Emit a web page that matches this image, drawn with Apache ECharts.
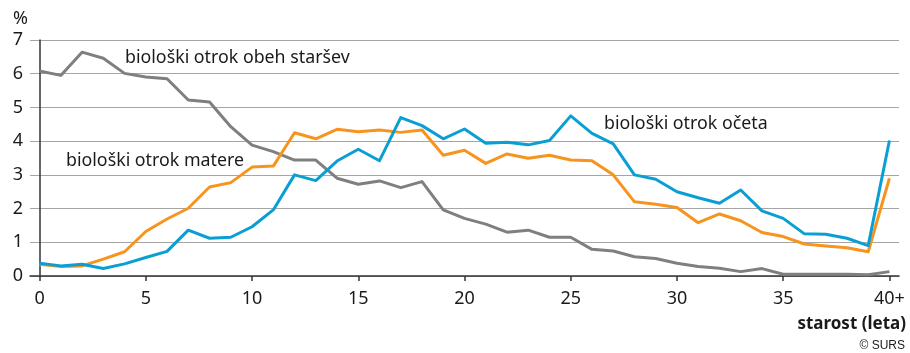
<!DOCTYPE html>
<html>
<head>
<meta charset="utf-8">
<script src="https://cdn.jsdelivr.net/npm/echarts@6/dist/echarts.min.js"></script>
<style>
  html, body { margin: 0; padding: 0; background: #fff; }
  #chart { width: 910px; height: 353px; }
</style>
</head>
<body>
<div id="chart"></div>
<script>
// Age of child (years); the last group is 40 and older
const ages = Array.from({ length: 41 }, (_, i) => i);
const tickAges = [0, 5, 10, 15, 20, 25, 30, 35, 40];

// Share of children (%) by age and relationship
const bothParents = [6.08, 5.95, 6.64, 6.46, 6.01, 5.9, 5.85, 5.22, 5.16, 4.43,
  3.88, 3.69, 3.44, 3.44, 2.9, 2.72, 2.82, 2.62, 2.8, 1.96,
  1.71, 1.54, 1.3, 1.36, 1.15, 1.15, 0.79, 0.74, 0.57, 0.52,
  0.38, 0.28, 0.23, 0.13, 0.22, 0.05, 0.05, 0.05, 0.05, 0.04, 0.13];
const motherOnly = [0.35, 0.28, 0.3, 0.5, 0.72, 1.32, 1.69, 2.01, 2.64, 2.77,
  3.23, 3.26, 4.25, 4.07, 4.35, 4.28, 4.33, 4.26, 4.33, 3.58,
  3.73, 3.34, 3.62, 3.49, 3.58, 3.44, 3.42, 3.0, 2.2, 2.13,
  2.03, 1.58, 1.84, 1.64, 1.29, 1.17, 0.95, 0.89, 0.84, 0.72, 2.9];
const fatherOnly = [0.38, 0.3, 0.35, 0.22, 0.36, 0.55, 0.73, 1.36, 1.12, 1.15,
  1.46, 1.96, 3.0, 2.83, 3.41, 3.76, 3.42, 4.7, 4.46, 4.07,
  4.36, 3.94, 3.97, 3.89, 4.02, 4.75, 4.23, 3.92, 3.0, 2.87,
  2.5, 2.32, 2.16, 2.55, 1.93, 1.71, 1.25, 1.24, 1.12, 0.9, 4.02];

const seriesNames = ['biološki otrok obeh staršev', 'biološki otrok matere', 'biološki otrok očeta'];
const colors = ['#7f7f80', '#f7941d', '#0a9fd4'];

const FONT = '"Noto Sans", "Open Sans", sans-serif';
const TEXT = '#1a1a1a';
const LABEL_FONT = '17.8px ' + FONT;

const pairs = vals => ages.map((a, i) => [a, vals[i]]);

const chart = echarts.init(document.getElementById('chart'), null, { renderer: 'canvas' });

const lineSeries = [bothParents, motherOnly, fatherOnly].map((vals, k) => ({
  name: seriesNames[k],
  type: 'line',
  data: pairs(vals),
  symbol: 'none',
  smooth: false,
  lineStyle: { color: colors[k], width: 3, join: 'round' },
  z: 3 + k
}));

chart.setOption({
  animation: false,
  backgroundColor: '#ffffff',
  textStyle: { fontFamily: FONT },
  grid: { left: 30, right: 11, top: 40, bottom: 77 },
  xAxis: {
    type: 'value',
    min: -0.45,
    max: 40.45,
    axisLine: { show: true, onZero: false, lineStyle: { color: '#333', width: 1.5 } },
    axisTick: { show: true, customValues: tickAges, length: 5, lineStyle: { color: '#333', width: 1.5 } },
    axisLabel: {
      customValues: tickAges,
      margin: 14,
      fontSize: 18,
      color: TEXT,
      fontFamily: FONT,
      formatter: v => (v === 40 ? '40+' : String(v))
    },
    splitLine: { show: false }
  },
  yAxis: {
    type: 'value',
    min: 0,
    max: 7,
    interval: 1,
    axisLine: { show: true, lineStyle: { color: '#333', width: 1.5 } },
    axisTick: { show: false },
    axisLabel: { margin: 7, fontSize: 18, color: TEXT, fontFamily: FONT },
    splitLine: { show: true, lineStyle: { color: '#a6a6a6', width: 1.2 } }
  },
  graphic: [
    { type: 'text', left: 13, top: 10, style: { text: '%', font: '18px ' + FONT, fill: TEXT } },
    { type: 'text', left: 125, top: 49, style: { text: seriesNames[0], font: LABEL_FONT, fill: TEXT } },
    { type: 'text', left: 66, top: 152, style: { text: seriesNames[1], font: LABEL_FONT, fill: TEXT } },
    { type: 'text', left: 604, top: 115, style: { text: seriesNames[2], font: LABEL_FONT, fill: TEXT } },
    { type: 'text', right: 4, top: 316, style: { text: 'starost (leta)', font: 'bold 17px ' + FONT, fill: TEXT } },
    { type: 'text', right: 5, top: 340, style: { text: '© SURS', font: '12px "Liberation Sans", Arial, sans-serif', fill: TEXT } }
  ],
  series: lineSeries
});
</script>
</body>
</html>
